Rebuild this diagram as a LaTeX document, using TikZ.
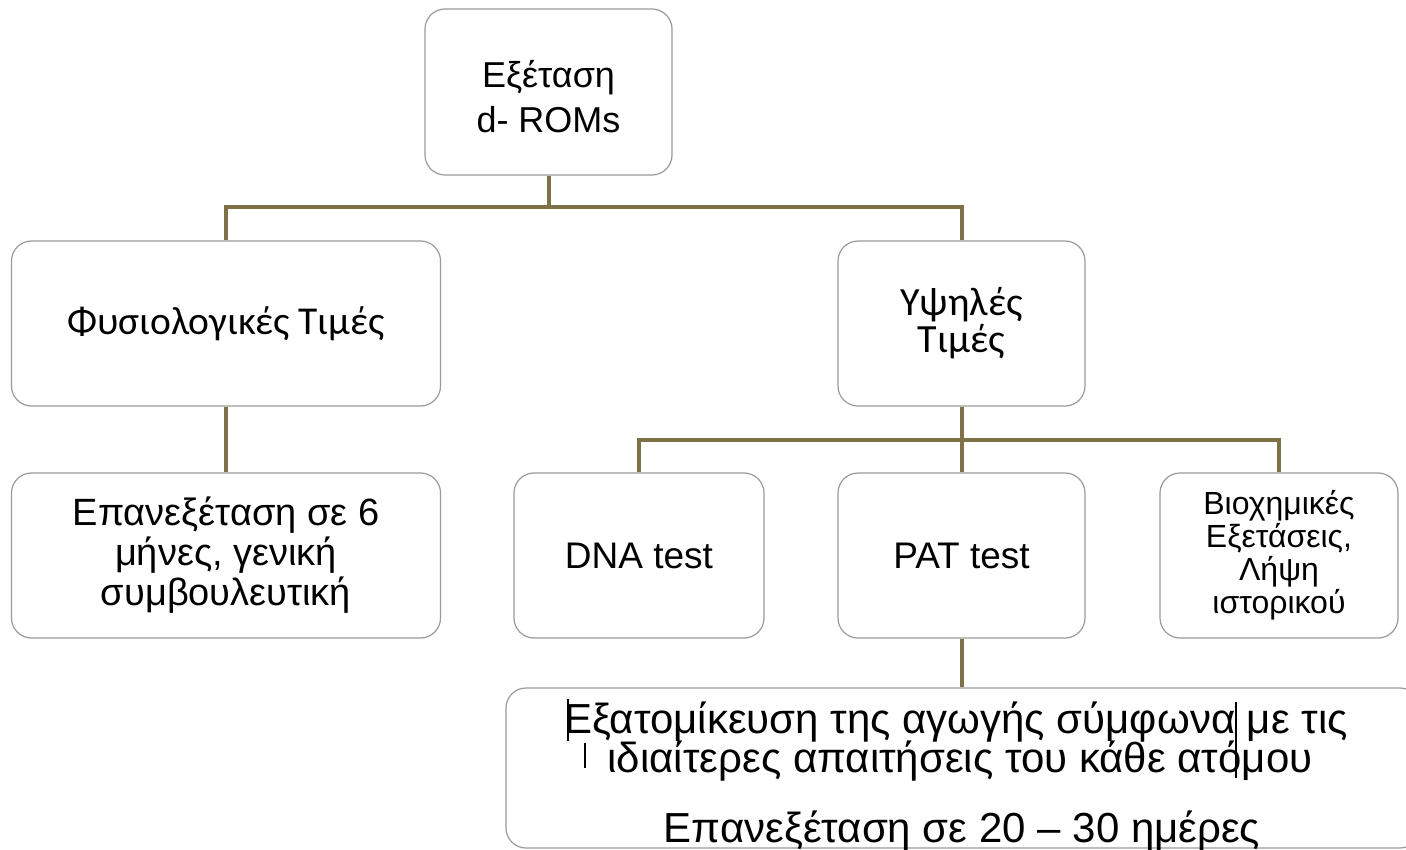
\documentclass[tikz,border=0pt]{standalone}
\usepackage{fontspec}
\setmainfont{Liberation Sans}
\newfontfamily\calib{Carlito}
\definecolor{connc}{HTML}{7E7148}
\definecolor{bord}{HTML}{9A9A9A}
\begin{document}
\begin{tikzpicture}[x=1pt,y=-1pt,
  box/.style={draw=bord,line width=1.2pt,fill=white,rounded corners=20pt,align=center,inner sep=0pt},
  conn/.style={draw=connc,line width=4pt},
  txt/.style={inner sep=0pt,anchor=base},
  bigtxt/.style={txt,font=\fontsize{42}{42}\selectfont},
  stray/.style={draw=black,line width=1.3pt}]
\useasboundingbox (0,0) rectangle (1406,850);
\clip (0,0) rectangle (1406,850);
\fill[white] (0,0) rectangle (1406,850);

\node[box,minimum width=247pt,minimum height=166pt] (top) at (548.5,92) {};
\node[txt,font=\fontsize{36}{36}\selectfont] (top1) at (548.5,88) {Εξέταση};
\node[txt,font=\fontsize{36}{36}\selectfont] (top2) at (548.5,133) {d- ROMs};
\node[box,minimum width=429pt,minimum height=165pt,font=\calib\fontsize{39.5}{40}\selectfont] (fys) at (226,323.5) {Φυσιολογικές Τιμές};
\node[box,minimum width=247pt,minimum height=165pt,font=\calib\fontsize{40}{37}\selectfont] (yps) at (961.5,323.5) {Υψηλές\\Τιμές};
\node[box,minimum width=429pt,minimum height=165pt,font=\fontsize{38}{40}\selectfont] (epan) at (226,555.5) {Επανεξέταση σε 6\\μήνες, γενική\\συμβουλευτική};
\node[box,minimum width=250pt,minimum height=165pt,font=\fontsize{37}{40}\selectfont] (dna) at (639,555.5) {DNA test};
\node[box,minimum width=247pt,minimum height=165pt,font=\fontsize{37}{40}\selectfont] (pat) at (961.5,555.5) {PAT test};
\node[box,minimum width=238pt,minimum height=165pt,font=\fontsize{32}{33}\selectfont] (bio) at (1279,555.5) {Βιοχημικές\\Εξετάσεις,\\Λήψη\\ιστορικού};
\node[box,minimum width=914pt,minimum height=160pt] (bot) at (963,768) {};
\node[bigtxt] (bot1) at (956,733) {Εξατομίκευση της αγωγής σύμφωνα με τις};
\node[bigtxt] (bot2) at (960,772) {ιδιαίτερες απαιτήσεις του κάθε ατόμου};
\node[bigtxt] (bot3) at (962,842) {Επανεξέταση σε 20 – 30 ημέρες};

\coordinate (j1) at (548.5,207);
\coordinate (j2) at (961.5,440);
\draw[conn] (top.south) -- (j1);
\draw[conn] (fys.north) |- (j1);
\draw[conn] (yps.north) |- (j1);
\draw[conn] (fys.south) -- (epan.north);
\draw[conn] (yps.south) -- (j2);
\draw[conn] (dna.north) |- (j2);
\draw[conn] (bio.north) |- (j2);
\draw[conn] (pat.north) -- (j2);
\draw[conn] (pat.south) -- (bot.north -| pat.south);

\draw[stray] (568,699) -- (568,741);
\draw[stray] (585,743) -- (585,768);
\draw[stray] (1236,702) -- (1236,778);
\end{tikzpicture}
\end{document}
